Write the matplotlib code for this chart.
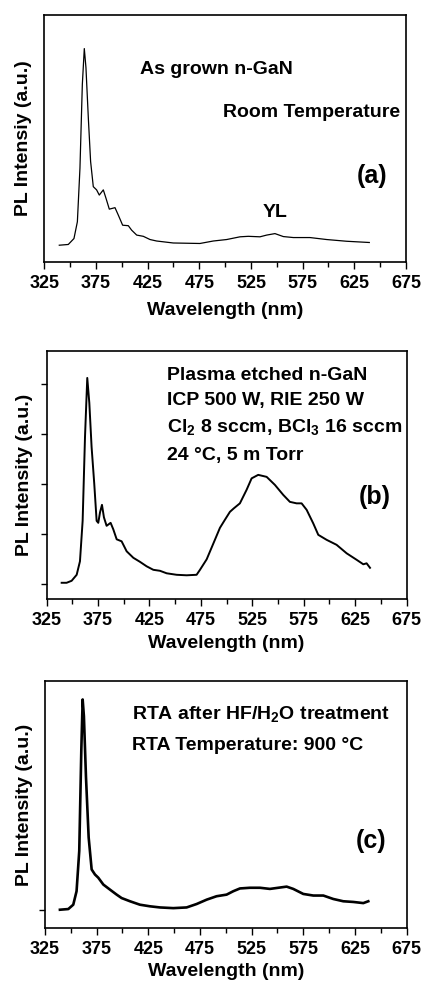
import matplotlib
matplotlib.use("Agg")
import matplotlib.pyplot as plt
from matplotlib.ticker import MultipleLocator

plt.rcParams['font.family'] = ['Liberation Sans', 'DejaVu Sans']
plt.rcParams['font.weight'] = 'bold'
plt.rcParams['mathtext.fontset'] = 'custom'
plt.rcParams['mathtext.rm'] = 'Liberation Sans:bold'
plt.rcParams['mathtext.it'] = 'Liberation Sans:bold:italic'
plt.rcParams['mathtext.bf'] = 'Liberation Sans:bold'

# ---------------- data ----------------
wl_a = [339.5, 348.2, 353.7, 357.0, 359.5, 361.8, 363.7, 365.3, 367.6, 369.8,
        372.4, 375.6, 378.2, 382.1, 384.7, 387.9, 393.4, 396.6, 400.8, 406.3,
        409.5, 414.4, 420.8, 427.3, 433.7, 449.8, 475.6, 488.5, 501.5, 514.4,
        522.4, 533.7, 540.2, 548.2, 556.3, 566.0, 582.1, 598.2, 617.6, 639.5]
pl_a = [6.8, 7.1, 9.5, 16.3, 38.0, 71.9, 86.4, 78.7, 58.3, 40.7,
        30.5, 29.2, 27.1, 29.2, 25.8, 21.4, 22.0, 19.0, 14.9, 14.7,
        12.9, 10.9, 10.4, 9.1, 8.5, 7.7, 7.5, 8.5, 9.1, 10.2,
        10.4, 10.2, 10.9, 11.5, 10.3, 9.9, 9.9, 9.1, 8.4, 7.9]

wl_b = [339.6, 344.4, 349.3, 354.2, 357.4, 360.0, 362.3, 364.5, 366.5, 368.7,
        371.3, 373.6, 375.2, 376.9, 378.8, 380.7, 383.3, 387.2, 389.8, 393.1,
        397.9, 402.8, 409.3, 415.7, 422.2, 428.7, 435.2, 441.7, 451.4, 461.1,
        470.8, 474.1, 480.6, 488.6, 493.5, 498.3, 503.2, 507.0, 512.9, 519.4,
        524.3, 530.7, 538.9, 546.9, 555.0, 561.5, 568.0, 572.9, 577.8, 584.2,
        589.1, 597.2, 606.9, 616.7, 626.4, 632.9, 636.1, 639.4]
pl_b = [0.03, 0.03, 0.07, 0.19, 0.46, 1.27, 2.95, 4.13, 3.63, 2.75,
        2.01, 1.27, 1.23, 1.44, 1.59, 1.34, 1.17, 1.23, 1.10, 0.90,
        0.86, 0.66, 0.53, 0.45, 0.36, 0.29, 0.27, 0.22, 0.19, 0.18,
        0.19, 0.29, 0.50, 0.89, 1.13, 1.29, 1.45, 1.52, 1.62, 1.89,
        2.12, 2.19, 2.15, 1.99, 1.79, 1.65, 1.62, 1.62, 1.49, 1.22,
        0.99, 0.89, 0.79, 0.62, 0.49, 0.40, 0.42, 0.33]

wl_c = [339.5, 347.6, 352.4, 355.6, 358.2, 360.2, 361.5, 362.7, 364.7, 367.3,
        370.2, 373.4, 376.6, 381.5, 387.9, 394.4, 399.2, 407.3, 416.9, 426.6,
        436.3, 449.2, 462.1, 471.8, 481.5, 491.1, 500.8, 507.3, 513.7, 523.4,
        533.1, 542.7, 550.8, 558.9, 565.3, 575.0, 584.7, 594.4, 604.0, 613.7,
        623.4, 633.1, 637.9]
pl_c = [0.0, 0.3, 2.2, 8.1, 25.7, 69.9, 91.9, 84.6, 58.1, 31.6,
        17.6, 15.4, 14.0, 11.0, 8.8, 6.6, 5.1, 3.7, 2.2, 1.5,
        1.0, 0.7, 1.0, 2.5, 4.4, 5.9, 6.6, 8.1, 9.3, 9.6,
        9.6, 9.1, 9.6, 10.1, 9.1, 6.9, 6.2, 6.2, 4.7, 3.7,
        3.4, 2.9, 3.7]

x_ticks = [325, 375, 425, 475, 525, 575, 625, 675]
yticks_b = [0, 1, 2, 3, 4]
yticks_c = [0]

FS_TICK = 13
FS_LAB = 14
FS_TXT = 14
FS_TAG = 18

fig = plt.figure(figsize=(4.24, 9.85), dpi=100)
ax_a = fig.add_axes([0.1045, 0.734, 0.853, 0.2508])
ax_b = fig.add_axes([0.110, 0.3916, 0.849, 0.2521])
ax_c = fig.add_axes([0.106, 0.0576, 0.853, 0.2511])


def style(ax, ylab, xlab_y, ylab_x):
    ax.set_xlim(325, 675)
    ax.set_xticks(x_ticks)
    ax.xaxis.set_minor_locator(MultipleLocator(25))
    ax.tick_params(axis='x', which='major', direction='out', length=5, width=1,
                   labelsize=FS_TICK, pad=4)
    ax.tick_params(axis='x', which='minor', direction='out', length=3.5, width=1)
    ax.tick_params(axis='y', which='both', direction='out', length=4, width=1,
                   labelleft=False)
    for s in ax.spines.values():
        s.set_linewidth(1.2)
    for lab in ax.get_xticklabels():
        lab.set_fontweight('bold')
    ax.set_xlabel('Wavelength (nm)', fontsize=FS_LAB, fontweight='bold')
    ax.xaxis.set_label_coords(0.5, xlab_y)
    ax.set_ylabel(ylab, fontsize=FS_LAB, fontweight='bold')
    ax.yaxis.set_label_coords(ylab_x, 0.5)


# panel (a)
ax_a.plot(wl_a, pl_a, color='black', lw=0.9)
ax_a.set_ylim(0, 100)
ax_a.set_yticks([])
style(ax_a, 'PL Intensiy (a.u.)', -0.16, -0.035)
ax_a.text(0.2645, 0.76, 'As grown n-GaN', transform=ax_a.transAxes,
          fontsize=FS_TXT, fontweight='bold', ha='left', va='baseline')
ax_a.text(0.983, 0.586, 'Room Temperature', transform=ax_a.transAxes,
          fontsize=FS_TXT, fontweight='bold', ha='right', va='baseline')
ax_a.text(0.905, 0.35, '(a)', transform=ax_a.transAxes,
          fontsize=FS_TAG, fontweight='bold', ha='center', va='center')
ax_a.text(0.638, 0.181, 'YL', transform=ax_a.transAxes,
          fontsize=FS_TXT, fontweight='bold', ha='center', va='baseline')

# panel (b)
ax_b.plot(wl_b, pl_b, color='black', lw=1.4)
ax_b.set_ylim(-0.30, 4.67)
ax_b.set_yticks(yticks_b)
style(ax_b, 'PL Intensity (a.u.)', -0.145, -0.038)
lines_b = ['Plasma etched n-GaN',
           'ICP 500 W, RIE 250 W',
           'Cl$_2$ 8 sccm, BCl$_3$ 16 sccm',
           '24 \u00b0C, 5 m Torr']
ys_b = [0.885, 0.781, 0.675, 0.560]
for t, y in zip(lines_b, ys_b):
    ax_b.text(0.333, y, t, transform=ax_b.transAxes, fontsize=FS_TXT,
              fontweight='bold', ha='left', va='baseline')
ax_b.text(0.912, 0.41, '(b)', transform=ax_b.transAxes,
          fontsize=FS_TAG, fontweight='bold', ha='center', va='center')

# panel (c)
ax_c.plot(wl_c, pl_c, color='black', lw=1.9)
ax_c.set_ylim(-8.1, 100)
ax_c.set_yticks(yticks_c)
style(ax_c, 'PL Intensity (a.u.)', -0.142, -0.034)
lines_c = ['RTA after HF/H$_2$O treatment',
           'RTA Temperature: 900 \u00b0C']
ys_c = [0.846, 0.721]
for t, y in zip(lines_c, ys_c):
    ax_c.text(0.242, y, t, transform=ax_c.transAxes, fontsize=FS_TXT,
              fontweight='bold', ha='left', va='baseline')
ax_c.text(0.903, 0.354, '(c)', transform=ax_c.transAxes,
          fontsize=FS_TAG, fontweight='bold', ha='center', va='center')

fig.savefig('out.png', dpi=100)
